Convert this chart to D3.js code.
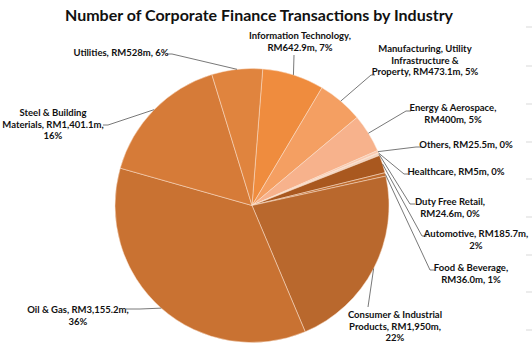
<!DOCTYPE html>
<html>
<head>
<meta charset="utf-8">
<script src="https://cdn.jsdelivr.net/npm/d3@7"></script>
<style>
  body { margin: 0; background: #fff; }
  text { font-family: Lato, "Open Sans", sans-serif; }
</style>
</head>
<body>
<div id="chart"></div>
<script>
// Data (clockwise from just right of 12 o'clock)
const categories = ["Information Technology", "Manufacturing, Utility Infrastructure & Property",
  "Energy & Aerospace", "Others", "Healthcare", "Duty Free Retail", "Automotive",
  "Food & Beverage", "Consumer & Industrial Products", "Oil & Gas",
  "Steel & Building Materials", "Utilities"];
const values = [642.9, 473.1, 400, 25.5, 5, 24.6, 185.7, 36.0, 1950, 3155.2, 1401.1, 528];
const valueLabels = ["RM642.9m", "RM473.1m", "RM400m", "RM25.5m", "RM5m", "RM24.6m",
  "RM185.7m", "RM36.0m", "RM1,950m", "RM3,155.2m", "RM1,401.1m", "RM528m"];
const percentLabels = ["7%", "5%", "5%", "0%", "0%", "0%", "2%", "1%", "22%", "36%", "16%", "6%"];

const colors = ["#EF8C3E", "#F49F62", "#F7B28C", "#FAC9AF", "#FCE1D3", "#F3D2BE",
  "#A9581F", "#BE6A2C", "#B9682D", "#C97232", "#D67B38", "#E0843E"];

// Label layout: words per line, centre x, first baseline, leader elbow and end
const labelLayout = [
  {wrap: [2, 2], x: 300, y: 39, elbow: [294, 55], end: [294, 55]},
  {wrap: [2, 2, 3], x: 425, y: 52, elbow: [371, 75], end: [375, 75]},
  {wrap: [3, 2], x: 453, y: 111, elbow: [406, 111], end: [411, 111]},
  {wrap: [3], x: 466, y: 148, elbow: [416, 147], end: [421, 147]},
  {wrap: [3], x: 456, y: 175, elbow: [404, 174], end: [408, 174]},
  {wrap: [3, 2], x: 450, y: 205, elbow: [410, 204], end: [415, 204]},
  {wrap: [2, 1], x: 476, y: 237, elbow: [422, 236], end: [427, 236]},
  {wrap: [3, 2], x: 471, y: 271, elbow: [430, 270], end: [435, 270]},
  {wrap: [3, 2, 1], x: 395, y: 318, elbow: [368, 307], end: [368, 307]},
  {wrap: [4, 1], x: 78, y: 313, elbow: [140, 309], end: [126, 309]},
  {wrap: [3, 2, 1], x: 53, y: 116, elbow: [108, 125], end: [103, 125]},
  {wrap: [3], x: 121, y: 56, elbow: [172, 54], end: [167, 54]}
];

const width = 532;
const height = 353;
const cx = 252;
const cy = 205.5;
const radius = 137;
const startAngle = 4.5 * Math.PI / 180;
const lineHeight = 11.5;

const svg = d3.create("svg")
  .attr("width", width)
  .attr("height", height)
  .attr("viewBox", [0, 0, width, height]);

d3.select("#chart").append(() => svg.node());

// Faint spreadsheet row marks at the right edge
const rowMarks = [27, 66, 104, 142, 179, 217, 255, 292, 330];
svg.append("g")
  .selectAll("line")
  .data(rowMarks)
  .join("line")
  .attr("x1", 526).attr("x2", 532)
  .attr("y1", d => d).attr("y2", d => d)
  .attr("stroke", "#d9d9d9");

svg.append("text")
  .attr("x", 259)
  .attr("y", 21)
  .attr("text-anchor", "middle")
  .attr("font-size", 16)
  .attr("font-weight", "bold")
  .attr("fill", "#111")
  .text("Number of Corporate Finance Transactions by Industry");

const data = categories.map((c, i) => ({
  category: c, value: values[i], valueLabel: valueLabels[i], pct: percentLabels[i], i
}));

const pie = d3.pie()
  .sort(null)
  .value(d => d.value)
  .startAngle(startAngle)
  .endAngle(startAngle + 2 * Math.PI);

const arcs = pie(data);
const arc = d3.arc().innerRadius(0).outerRadius(radius);
const edge = d3.arc().innerRadius(radius).outerRadius(radius);

const g = svg.append("g").attr("transform", `translate(${cx},${cy})`);

g.selectAll("path")
  .data(arcs)
  .join("path")
  .attr("d", arc)
  .attr("fill", d => colors[d.data.i])
  .attr("stroke", "#fbe3d0")
  .attr("stroke-width", 0.5);

// Leader lines
svg.append("g")
  .attr("fill", "none")
  .attr("stroke", "#555")
  .attr("stroke-width", 0.8)
  .selectAll("polyline")
  .data(arcs)
  .join("polyline")
  .attr("points", d => {
    const L = labelLayout[d.data.i];
    const [px, py] = edge.centroid(d);
    return [[cx + px, cy + py], L.elbow, L.end].map(p => p.join(",")).join(" ");
  });

// Labels
const labels = svg.append("g")
  .attr("font-size", 9.5)
  .attr("font-weight", "bold")
  .attr("fill", "#111")
  .attr("text-anchor", "middle");

arcs.forEach(d => {
  const L = labelLayout[d.data.i];
  const words = `${d.data.category}, ${d.data.valueLabel}, ${d.data.pct}`.split(" ");
  const t = labels.append("text").attr("x", L.x).attr("y", L.y);
  let k = 0;
  L.wrap.forEach((n, j) => {
    t.append("tspan")
      .attr("x", L.x)
      .attr("dy", j === 0 ? 0 : lineHeight)
      .text(words.slice(k, k + n).join(" "));
    k += n;
  });
});
</script>
</body>
</html>
